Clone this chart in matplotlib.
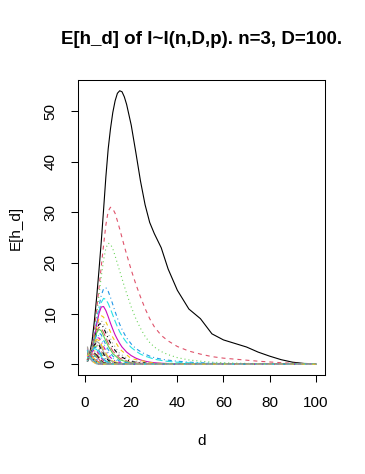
import numpy as np
import matplotlib
matplotlib.use("Agg")
import matplotlib.pyplot as plt

# d grid for the six big curves
d_full = [1, 2, 3, 4, 5, 6, 7, 8, 9, 10, 11, 12, 13, 14, 15, 16, 17, 18, 20, 22, 24, 26, 28, 30,
          33, 36, 40, 45, 50, 55, 60, 65, 70, 75, 80, 85, 90, 95, 100]

h1 = [1.0, 2.2, 4.5, 8.5, 13.2, 18.5, 24.2, 30.5, 37.0, 42.5, 46.5, 49.7, 52.0, 53.5, 54.0, 53.8,
      52.8, 51.3, 47.2, 41.8, 36.2, 31.5, 28.0, 25.8, 23.0, 18.8, 14.6, 10.9, 9.0, 6.0, 4.8, 4.1,
      3.4, 2.4, 1.6, 0.9, 0.4, 0.15, 0.1]
h2 = [0.8, 1.8, 3.6, 6.8, 10.8, 15.0, 19.3, 23.5, 27.5, 30.2, 31.0, 30.7, 29.8, 28.3, 26.7, 25.0,
      23.3, 21.7, 18.6, 15.8, 13.3, 11.0, 9.0, 7.4, 5.7, 4.6, 3.5, 2.6, 2.0, 1.5, 1.2, 1.0,
      0.8, 0.6, 0.45, 0.3, 0.2, 0.1, 0.05]
h3 = [0.7, 1.6, 3.3, 6.2, 9.8, 13.6, 17.3, 20.6, 22.9, 23.9, 23.7, 22.8, 21.4, 19.9, 18.4, 16.9,
      15.4, 14.0, 11.3, 9.0, 7.1, 5.5, 4.3, 3.4, 2.5, 1.9, 1.3, 0.85, 0.6, 0.4, 0.3, 0.22,
      0.16, 0.12, 0.08, 0.06, 0.04, 0.03, 0.02]
h4 = [0.6, 1.5, 3.1, 5.7, 8.6, 11.4, 13.6, 14.9, 15.1, 14.4, 13.2, 11.8, 10.4, 9.1, 7.9, 6.9,
      6.0, 5.2, 4.0, 3.1, 2.5, 2.0, 1.6, 1.3, 1.0, 0.8, 0.6, 0.4, 0.3, 0.2, 0.15, 0.1,
      0.08, 0.06, 0.05, 0.04, 0.03, 0.02, 0.01]
h5 = [0.6, 1.5, 3.0, 5.4, 8.0, 10.4, 12.2, 13.0, 12.8, 12.0, 10.9, 9.7, 8.5, 7.4, 6.4, 5.6,
      4.9, 4.3, 3.3, 2.6, 2.0, 1.6, 1.3, 1.0, 0.75, 0.55, 0.4, 0.28, 0.2, 0.14, 0.1, 0.08,
      0.06, 0.05, 0.04, 0.03, 0.02, 0.01, 0.01]
h6 = [0.6, 1.5, 3.0, 5.3, 7.8, 10.0, 11.3, 11.4, 10.6, 9.4, 8.1, 6.9, 5.8, 4.9, 4.1, 3.4,
      2.9, 2.4, 1.7, 1.2, 0.85, 0.6, 0.42, 0.3, 0.2, 0.13, 0.08, 0.05, 0.03, 0.02, 0.01, 0.01,
      0.01, 0, 0, 0, 0, 0, 0]

# coarser d grid for the small curves in the clump
d_small = [1, 2, 3, 4, 5, 6, 7, 8, 10, 12, 15, 20, 30, 50, 100]
h_small = [
    [0.6, 1.5, 3.0, 5.1, 7.3, 9.0, 9.6, 9.3, 7.4, 5.3, 3.0, 1.1, 0.2, 0.02, 0],
    [0.6, 1.5, 2.9, 4.9, 6.9, 8.3, 8.6, 8.0, 6.0, 4.1, 2.1, 0.7, 0.1, 0.01, 0],
    [0.6, 1.5, 2.9, 4.8, 6.7, 7.9, 8.0, 7.2, 5.1, 3.3, 1.6, 0.5, 0.06, 0, 0],
    [0.6, 1.5, 2.9, 4.7, 6.4, 7.3, 7.1, 6.3, 4.2, 2.6, 1.2, 0.3, 0.03, 0, 0],
    [0.6, 1.5, 2.9, 4.6, 6.2, 6.9, 6.6, 5.6, 3.6, 2.1, 0.9, 0.2, 0.02, 0, 0],
    [0.6, 1.5, 2.8, 4.5, 5.8, 6.2, 5.8, 4.8, 2.9, 1.6, 0.6, 0.12, 0.01, 0, 0],
    [0.6, 1.5, 2.8, 4.4, 5.5, 5.7, 5.1, 4.1, 2.3, 1.2, 0.4, 0.08, 0, 0, 0],
    [0.6, 1.5, 2.8, 4.3, 5.2, 5.2, 4.5, 3.5, 1.8, 0.9, 0.3, 0.05, 0, 0, 0],
    [0.6, 1.5, 2.8, 4.1, 4.9, 4.7, 3.9, 2.9, 1.4, 0.6, 0.2, 0.03, 0, 0, 0],
    [0.6, 1.5, 2.7, 4.0, 4.5, 4.2, 3.4, 2.4, 1.1, 0.45, 0.12, 0.02, 0, 0, 0],
    [0.6, 1.5, 2.7, 3.8, 4.2, 3.8, 2.9, 2.0, 0.8, 0.3, 0.08, 0.01, 0, 0, 0],
    [0.6, 1.4, 2.6, 3.6, 3.9, 3.4, 2.5, 1.6, 0.6, 0.2, 0.05, 0, 0, 0, 0],
    [0.7, 1.4, 2.6, 3.5, 3.6, 3.0, 2.1, 1.3, 0.45, 0.15, 0.03, 0, 0, 0, 0],
    [0.7, 1.4, 2.5, 3.3, 3.3, 2.7, 1.8, 1.0, 0.33, 0.1, 0.02, 0, 0, 0, 0],
    [0.7, 1.4, 2.5, 3.1, 2.9, 2.3, 1.5, 0.8, 0.24, 0.07, 0.01, 0, 0, 0, 0],
    [0.8, 1.5, 2.4, 2.9, 2.6, 2.0, 1.2, 0.65, 0.17, 0.04, 0.01, 0, 0, 0, 0],
    [0.8, 1.5, 2.3, 2.7, 2.3, 1.7, 1.0, 0.5, 0.12, 0.03, 0, 0, 0, 0, 0],
    [0.9, 1.5, 2.2, 2.5, 2.1, 1.4, 0.8, 0.4, 0.08, 0.02, 0, 0, 0, 0, 0],
    [0.9, 1.5, 2.1, 2.2, 1.8, 1.2, 0.65, 0.3, 0.06, 0.01, 0, 0, 0, 0, 0],
    [1.0, 1.6, 2.0, 2.0, 1.5, 1.0, 0.5, 0.22, 0.04, 0.01, 0, 0, 0, 0, 0],
    [1.1, 1.6, 1.9, 1.8, 1.3, 0.8, 0.4, 0.17, 0.03, 0, 0, 0, 0, 0, 0],
    [1.2, 1.7, 1.8, 1.6, 1.1, 0.65, 0.3, 0.12, 0.02, 0, 0, 0, 0, 0, 0],
    [1.3, 1.7, 1.7, 1.4, 0.9, 0.5, 0.22, 0.09, 0.01, 0, 0, 0, 0, 0, 0],
    [1.5, 1.8, 1.6, 1.25, 0.75, 0.4, 0.17, 0.06, 0.01, 0, 0, 0, 0, 0, 0],
    [1.7, 1.8, 1.5, 1.1, 0.6, 0.3, 0.12, 0.04, 0, 0, 0, 0, 0, 0, 0],
    [1.9, 1.8, 1.4, 0.95, 0.5, 0.22, 0.09, 0.03, 0, 0, 0, 0, 0, 0, 0],
    [2.1, 1.8, 1.3, 0.8, 0.4, 0.17, 0.06, 0.02, 0, 0, 0, 0, 0, 0, 0],
    [2.3, 1.8, 1.2, 0.7, 0.32, 0.12, 0.04, 0.01, 0, 0, 0, 0, 0, 0, 0],
    [2.5, 1.7, 1.1, 0.6, 0.25, 0.09, 0.03, 0.01, 0, 0, 0, 0, 0, 0, 0],
    [2.7, 1.6, 1.0, 0.5, 0.2, 0.07, 0.02, 0, 0, 0, 0, 0, 0, 0, 0],
    [2.9, 1.5, 0.9, 0.42, 0.15, 0.05, 0.01, 0, 0, 0, 0, 0, 0, 0, 0],
    [3.1, 1.4, 0.8, 0.35, 0.12, 0.03, 0.01, 0, 0, 0, 0, 0, 0, 0, 0],
    [3.3, 1.3, 0.7, 0.28, 0.09, 0.02, 0, 0, 0, 0, 0, 0, 0, 0, 0],
    [3.5, 1.2, 0.6, 0.22, 0.07, 0.02, 0, 0, 0, 0, 0, 0, 0, 0, 0],
]

# R palette and matplot-like line types
r_cols = ["black", "#DF536B", "#61D04F", "#2297E6", "#28E2E5", "#CD0BBC", "#F5C710", "#9E9E9E"]
px = 0.72
r_lty = ["-", (0, (4 * px, 4 * px)), (0, (1 * px, 3 * px)),
         (0, (1 * px, 3 * px, 4 * px, 3 * px)), (0, (7 * px, 3 * px))]

plt.rcParams['font.family'] = ['Liberation Sans', 'DejaVu Sans']
plt.rcParams['lines.scale_dashes'] = False

fig = plt.figure(figsize=(3.65, 4.74), dpi=100)
ax = fig.add_axes([0.2145, 0.2085, 0.6755, 0.6231])

series = [(d_full, h) for h in [h1, h2, h3, h4, h5, h6]] + [(d_small, h) for h in h_small]
for i, (dd, hh) in enumerate(series):
    ax.plot(dd, hh, color=r_cols[i % 8], linestyle=r_lty[i % 5], linewidth=0.8)

ax.set_xlim(1 - 0.04 * 99, 100 + 0.04 * 99)
ax.set_ylim(-0.04 * 54, 54 * 1.04)
ax.set_xticks([0, 20, 40, 60, 80, 100])
ax.set_yticks([0, 10, 20, 30, 40, 50])
ax.tick_params(direction='out', length=5, width=0.75, labelsize=11, pad=10)
plt.setp(ax.get_yticklabels(), rotation=90, va='center')
for s in ax.spines.values():
    s.set_linewidth(0.75)

ax.set_xlabel('d', fontsize=11, labelpad=17)
ax.set_ylabel('E[h_d]', fontsize=11, labelpad=15)
ax.set_title('E[h_d] of I~I(n,D,p). n=3, D=100.', fontsize=13.5, fontweight='bold', pad=26)

fig.savefig('out.png', dpi=100)
